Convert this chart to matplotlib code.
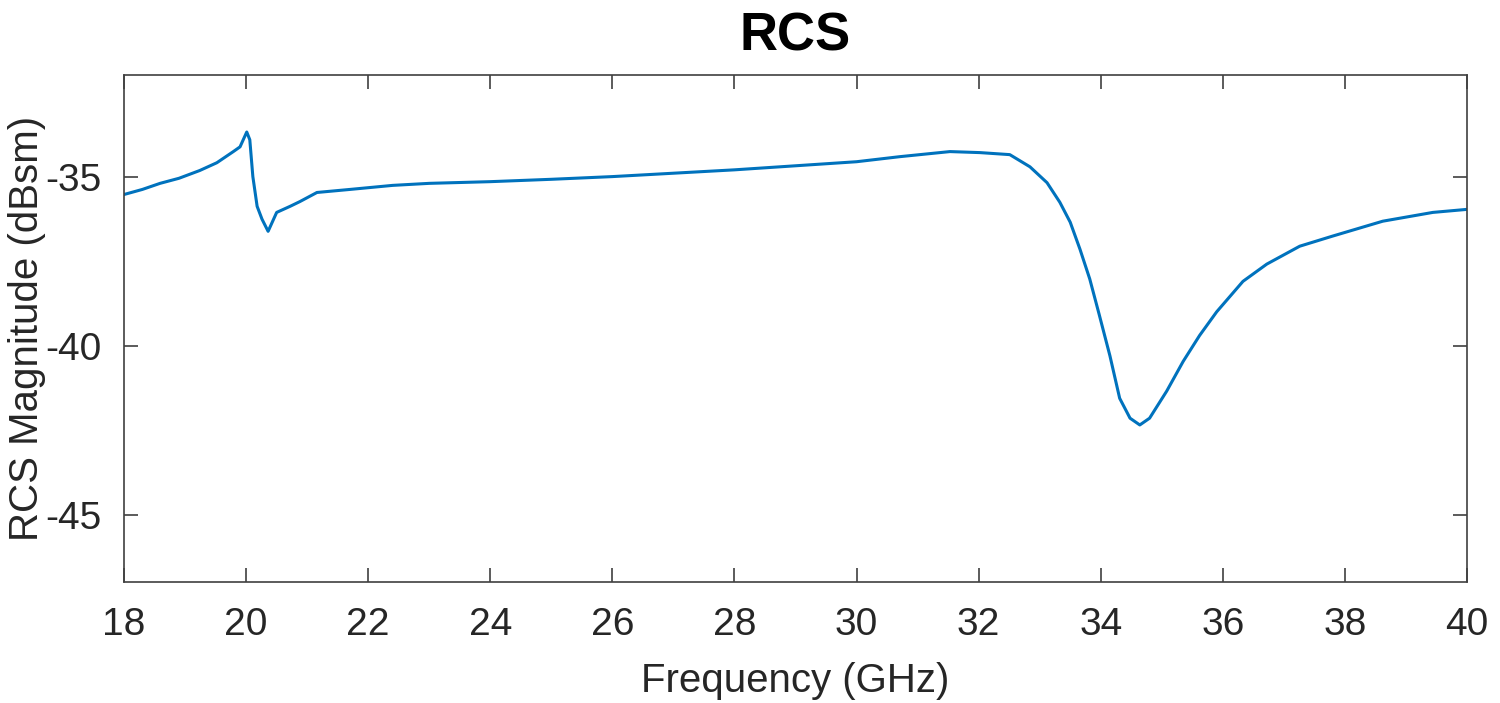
import numpy as np
import matplotlib
matplotlib.use("Agg")
import matplotlib.pyplot as plt

# points
freq = [18.0, 18.3, 18.59, 18.9, 19.24, 19.52, 19.79, 19.9, 20.01, 20.06, 20.11, 20.18,
        20.26, 20.36, 20.5, 20.72, 20.88, 21.16, 21.7, 22.4, 23.0, 24.0, 25.0, 26.0,
        27.0, 28.0, 29.0, 30.0, 30.71, 31.53, 32.02, 32.51, 32.84, 33.12, 33.33,
        33.5, 33.66, 33.82, 33.97, 34.15, 34.31, 34.48, 34.64, 34.8, 35.08, 35.35,
        35.62, 35.9, 36.33, 36.72, 37.26, 37.8, 38.62, 39.44, 40.0]
rcs = [-35.53, -35.38, -35.2, -35.05, -34.82, -34.59, -34.26, -34.12, -33.68, -33.91,
       -35.0, -35.88, -36.26, -36.62, -36.06, -35.88, -35.74, -35.47, -35.38, -35.26,
       -35.2, -35.15, -35.08, -35.0, -34.9, -34.8, -34.68, -34.56, -34.41, -34.26,
       -34.29, -34.35, -34.71, -35.18, -35.76, -36.35, -37.15, -38.03, -39.05, -40.3,
       -41.56, -42.15, -42.35, -42.15, -41.35, -40.47, -39.7, -39.0, -38.1, -37.59,
       -37.06, -36.76, -36.32, -36.06, -35.97]

xticks = [18, 20, 22, 24, 26, 28, 30, 32, 34, 36, 38, 40]
yticks = [-45, -40, -35]

plt.rcParams['font.family'] = ['Liberation Sans', 'DejaVu Sans']
plt.rcParams['axes.unicode_minus'] = False

fig = plt.figure(figsize=(15, 7.03), dpi=100)
ax = fig.add_axes([0.0827, 0.172, 0.8953, 0.721])

ax.plot(freq, rcs, color='#0072BD', lw=2.2)

ax.set_xlim(18, 40)
ax.set_ylim(-47, -32)
ax.set_xticks(xticks)
ax.set_yticks(yticks)

ax.tick_params(direction='in', top=True, right=True, length=10, width=1.2,
               colors='#404040', labelcolor='#262626', labelsize=28)
ax.tick_params(axis='x', pad=18)
ax.tick_params(axis='y', pad=16)
for s in ax.spines.values():
    s.set_color('#404040')
    s.set_linewidth(1.2)

ax.set_xlabel('Frequency (GHz)', fontsize=29, color='#262626', va='center')
ax.xaxis.set_label_coords(0.5, -0.195)
ax.set_ylabel('RCS Magnitude (dBsm)', fontsize=29, color='#262626', va='center')
ax.yaxis.set_label_coords(-0.072, 0.5)
ax.set_title('RCS', fontsize=38, fontweight='bold', color='black', pad=18)

fig.savefig('out.png', dpi=100)
